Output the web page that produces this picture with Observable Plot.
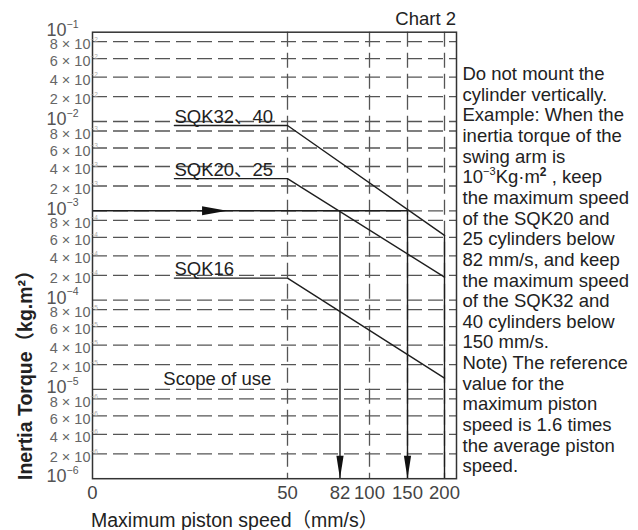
<!DOCTYPE html>
<html><head><meta charset="utf-8">
<script src="https://cdn.jsdelivr.net/npm/d3@7"></script>
<script src="https://cdn.jsdelivr.net/npm/@observablehq/plot@0.6"></script>
<style>
body{margin:0;background:#fff;}
#chart svg{display:block}
</style></head><body><div id="chart"></div>
<script>
// ---------- data ----------
const xTickValues = [0, 50, 82, 100, 150, 200];
const xGridValues = [50, 100, 150, 200];
const xBreaks = [0, 50, 100, 150, 200];           // non-uniform speed axis as drawn
const decadeExponents = [-1, -2, -3, -4, -5, -6];
const minorMultipliers = [8, 6, 4, 2];
const seriesNames = ["SQK32、40", "SQK20、25", "SQK16"];
const speedPoints = [21, 50, 200];
const torqueSQK32_40 = [9.1e-3, 9.1e-3, 6.2e-4];
const torqueSQK20_25 = [2.6e-3, 2.6e-3, 1.9e-4];
const torqueSQK16 = [1.85e-4, 1.85e-4, 1.37e-5];
const exampleTorque = 1e-3;
const exampleSpeeds = [82, 150];
const arrowSpeed = 34.5;
const scopeLabel = {text: "Scope of use", x: 32, y: 1e-5};
const chartTitle = "Chart 2";
const xTitle = "Maximum piston speed（mm/s）";
const yTitle = "Inertia Torque（kg.m²）";
const noteLines = [
  "Do not mount the", "cylinder vertically.", "Example: When the", "inertia torque of the",
  "swing arm is", "__SUP__", "the maximum speed", "of the SQK20 and",
  "25 cylinders below", "82 mm/s, and keep", "the maximum speed", "of the SQK32 and",
  "40 cylinders below", "150 mm/s.", "Note) The reference", "value for the",
  "maximum piston", "speed is 1.6 times", "the average piston", "speed."
];

// ---------- layout ----------
const W = 638, H = 530;
const mTop = 31.7, mLeft = 92, frameRight = 456, frameBottom = 478.2;
const decadePx = (frameBottom - mTop) / 5;
const minorOffset = {8: 9.5, 6: 26.5, 4: 45, 2: 64.5};
const xRange = [92, 287, 369, 407, 444];
const font = "'Liberation Sans', Arial, 'Noto Sans CJK SC', sans-serif";

// y piecewise-log scale breakpoints
const yPts = [];
decadeExponents.forEach((e, i) => {
  yPts.push([Number(`1e${e}`), mTop + i * decadePx]);
  if (e > -6) minorMultipliers.forEach(m => yPts.push([Number(`${m}e${e - 1}`), mTop + i * decadePx + minorOffset[m]]));
});
yPts.sort((a, b) => a[0] - b[0]);

const decades = decadeExponents.map(e => ({v: Number(`1e${e}`), exp: "−" + (-e)}));
const minors = [];
decadeExponents.slice(0, 5).forEach(e => minorMultipliers.forEach(m => minors.push({v: Number(`${m}e${e - 1}`), m, exp: "−" + (1 - e)})));
const gridY = [...minors.map(d => d.v), ...decades.slice(1, 5).map(d => d.v)];

const torques = [torqueSQK32_40, torqueSQK20_25, torqueSQK16];
const lineRows = [];
seriesNames.forEach((s, i) => speedPoints.forEach((x, j) => lineRows.push({s, x, y: torques[i][j]})));
const labelRows = seriesNames.map((s, i) => ({s, x: speedPoints[0], y: torques[i][0]}));

const downArrow = {draw(ctx) { ctx.moveTo(0, 0); ctx.lineTo(-3.6, -23); ctx.lineTo(3.6, -23); ctx.closePath(); }};
const rightArrow = {draw(ctx) { ctx.moveTo(0, 0); ctx.lineTo(-25, -4.5); ctx.lineTo(-25, 4.5); ctx.closePath(); }};

const gridStyle = {stroke: "#555", strokeWidth: 1.3, strokeDasharray: "15,6"};
const ink = "#1e1e1e";

const plot = Plot.plot({
  width: W, height: H,
  marginLeft: mLeft, marginRight: W - frameRight, marginTop: mTop, marginBottom: H - frameBottom,
  style: {fontFamily: font, background: "#fff", color: "#333", overflow: "visible"},
  x: {type: "linear", domain: xBreaks, range: xRange, axis: null},
  y: {type: "log", domain: yPts.map(d => d[0]), range: yPts.map(d => d[1]), axis: null},
  marks: [
    Plot.ruleY(gridY, {y: d => d, ...gridStyle}),
    Plot.ruleX(xGridValues, {x: d => d, ...gridStyle}),
    Plot.ruleY([exampleTorque], {x1: xBreaks[0], x2: d3.max(exampleSpeeds), stroke: ink, strokeWidth: 1.5}),
    Plot.ruleX(exampleSpeeds, {x: d => d, y1: exampleTorque, y2: decades[5].v, stroke: ink, strokeWidth: 1.4}),
    Plot.ruleX([xBreaks[4]], {y1: decades[5].v, y2: torqueSQK32_40[2], stroke: ink, strokeWidth: 1.4}),
    Plot.line(lineRows, {x: "x", y: "y", z: "s", stroke: ink, strokeWidth: 1.4}),
    Plot.dot(exampleSpeeds, {x: d => d, y: () => decades[5].v, symbol: downArrow, fill: "#111", r: 3}),
    Plot.dot([arrowSpeed], {x: d => d, y: () => exampleTorque, symbol: rightArrow, fill: "#111", r: 3}),
    Plot.frame({stroke: "#333", strokeWidth: 1.5}),
    // series labels sitting on the flat segments
    Plot.text(labelRows, {x: "x", y: "y", text: "s", textAnchor: "start", lineAnchor: "bottom", dy: -3, fontSize: 18.5, fill: "#222"}),
    Plot.text([scopeLabel], {x: "x", y: "y", text: "text", textAnchor: "middle", lineAnchor: "bottom", dy: -4, fontSize: 18.5, fill: "#222"}),
    // y tick labels
    Plot.text(decades, {frameAnchor: "left", y: "v", text: () => "10", textAnchor: "end", dx: -26, dy: -2, fontSize: 18, fill: "#555", lineAnchor: "middle"}),
    Plot.text(decades, {frameAnchor: "left", y: "v", text: "exp", textAnchor: "start", dx: -26, dy: -8, fontSize: 10.5, fill: "#555", lineAnchor: "middle"}),
    Plot.text(minors, {frameAnchor: "left", y: "v", text: d => `${d.m} × 10`, textAnchor: "end", dx: -2, dy: 3, fontSize: 14.5, fill: "#666", lineAnchor: "middle"}),
    Plot.text(minors, {frameAnchor: "left", y: "v", text: "exp", textAnchor: "start", dx: -2, dy: -2, fontSize: 6.5, fill: "#aaa", lineAnchor: "middle"}),
    // x tick labels
    Plot.text(xTickValues, {x: d => d, frameAnchor: "bottom", text: d => String(d), dy: 14, fontSize: 18.5, fill: "#444", lineAnchor: "middle"})
  ]
});
document.getElementById("chart").appendChild(plot);

// ---------- titles and note ----------
const svg = d3.select(plot);
const g = svg.append("g").attr("font-family", font).attr("fill", "#222").attr("font-size", 18.5).attr("text-anchor", "start");
g.append("text").attr("x", frameRight).attr("y", 24.5).attr("text-anchor", "end").text(chartTitle);
g.append("text").attr("x", mLeft - 1).attr("y", 527).attr("font-size", 19.5).text(xTitle);
g.append("text").attr("transform", `translate(32,480) rotate(-90)`).attr("font-weight", "bold")
  .attr("font-size", 19.5).text(yTitle);
noteLines.forEach((t, i) => {
  const el = g.append("text").attr("x", 462.5).attr("y", 80 + i * 20.65);
  if (t === "__SUP__") {
    el.append("tspan").text("10");
    el.append("tspan").attr("font-size", 11).attr("dy", -8).text("−3");
    el.append("tspan").attr("dy", 8).text("Kg·m");
    el.append("tspan").attr("font-size", 12).attr("font-weight", "bold").attr("dy", -7).text("2");
    el.append("tspan").attr("dy", 7).text(" , keep");
  } else el.text(t);
});
</script></body></html>
